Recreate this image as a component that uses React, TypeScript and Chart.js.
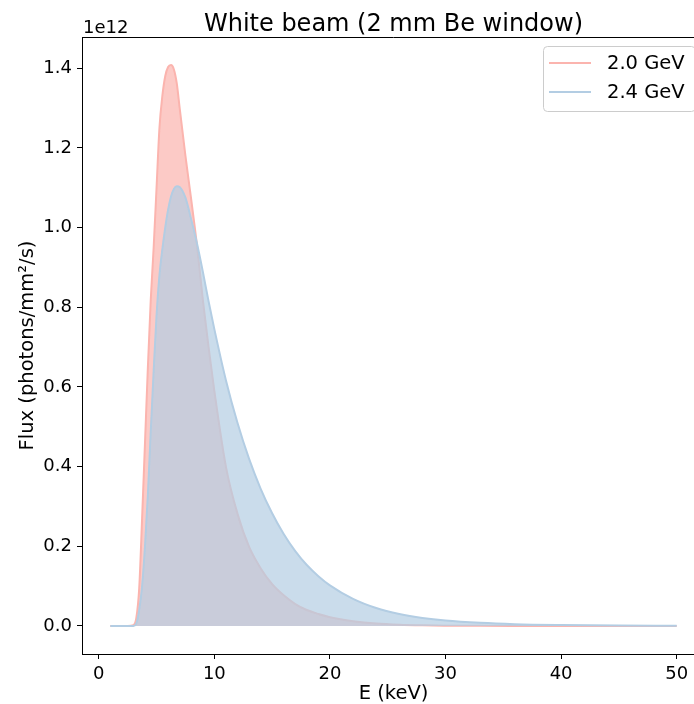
import React, { useEffect, useRef } from 'react';
import { Chart, registerables } from 'chart.js';

Chart.register(...registerables);

const TITLE = 'White beam (2 mm Be window)';
const X_LABEL = 'E (keV)';
const Y_LABEL = 'Flux (photons/mm²/s)';
const Y_OFFSET_LABEL = '1e12';
const SERIES_LABELS = ['2.0 GeV', '2.4 GeV'];

// photon energy (keV)
const ENERGY_KEV = [
  1, 2, 2.5, 3, 3.25, 3.5, 3.75, 4, 4.25, 4.5, 4.75, 5, 5.25, 5.5, 5.75, 6, 6.25, 6.5, 6.75, 7,
  7.5, 8, 8.5, 9, 9.5, 10, 11, 12, 13, 14, 15, 16, 17, 18, 19, 20, 22, 24, 26, 28, 30, 33, 36, 40, 45, 50,
];

// flux in units of 1e12 photons/mm^2/s
const FLUX_2_0_GEV = [
  0, 0, 0, 0.002, 0.02, 0.095, 0.27, 0.46, 0.65, 0.82, 0.95, 1.1, 1.25, 1.33, 1.38, 1.403, 1.408, 1.397, 1.362, 1.3,
  1.18, 1.07, 0.955, 0.82, 0.7, 0.59, 0.4, 0.282, 0.199, 0.145, 0.105, 0.077, 0.055, 0.04, 0.03, 0.022, 0.012, 0.006, 0.003, 0.0015, 0.0008, 0.0003, 0.0001, 0, 0, 0,
];
const FLUX_2_4_GEV = [
  0, 0, 0, 0, 0.006, 0.04, 0.1, 0.2, 0.33, 0.49, 0.64, 0.78, 0.88, 0.945, 1.0, 1.045, 1.078, 1.097, 1.104, 1.102,
  1.075, 1.02, 0.96, 0.89, 0.815, 0.745, 0.617, 0.51, 0.42, 0.345, 0.283, 0.231, 0.188, 0.153, 0.125, 0.102, 0.068, 0.045, 0.03, 0.02, 0.0135, 0.0078, 0.0045, 0.0024, 0.001, 0.0005,
];

const X_TICKS = [0, 10, 20, 30, 40, 50];
const Y_TICKS = [0, 0.2, 0.4, 0.6, 0.8, 1.0, 1.2, 1.4];
const X_MIN = -1.45;
const X_MAX = 52.45;
const Y_MIN = -0.0704;
const Y_MAX = 1.4784;

const RED = '#fbb4ae';
const BLUE = '#b3cde3';
const FONT = '"DejaVu Sans", sans-serif';

const decorPlugin = {
  id: 'decor',
  afterDraw(chart: any) {
    const ctx = chart.ctx;
    const { left, right, top, bottom } = chart.chartArea;
    ctx.save();
    // top and right spines
    ctx.strokeStyle = '#000';
    ctx.lineWidth = 1;
    ctx.beginPath();
    ctx.moveTo(left, top + 0.5);
    ctx.lineTo(right, top + 0.5);
    ctx.moveTo(right - 0.5, top);
    ctx.lineTo(right - 0.5, bottom);
    ctx.stroke();

    ctx.fillStyle = '#000';
    // title
    ctx.font = `24px ${FONT}`;
    ctx.textAlign = 'center';
    ctx.textBaseline = 'alphabetic';
    ctx.fillText(TITLE, (left + right) / 2, top - 6);
    // offset text
    ctx.font = `18px ${FONT}`;
    ctx.textAlign = 'left';
    ctx.fillText(Y_OFFSET_LABEL, left + 1, top - 4);
    // x label
    ctx.font = `19.5px ${FONT}`;
    ctx.textAlign = 'center';
    ctx.fillText(X_LABEL, (left + right) / 2, 699);
    // y label
    ctx.save();
    ctx.translate(32.5, (top + bottom) / 2);
    ctx.rotate(-Math.PI / 2);
    ctx.fillText(Y_LABEL, 0, 0);
    ctx.restore();

    // legend
    const bw = 152;
    const bh = 65;
    const bx = right - 10 - bw;
    const by = top + 9;
    ctx.beginPath();
    ctx.roundRect(bx + 0.5, by + 0.5, bw, bh, 4);
    ctx.fillStyle = 'rgba(255,255,255,0.8)';
    ctx.fill();
    ctx.strokeStyle = '#cccccc';
    ctx.stroke();
    const colors = [RED, BLUE];
    ctx.font = `19.5px ${FONT}`;
    ctx.textAlign = 'left';
    ctx.textBaseline = 'middle';
    SERIES_LABELS.forEach((lab, i) => {
      const ly = by + 17 + i * 29;
      ctx.strokeStyle = colors[i];
      ctx.lineWidth = 2;
      ctx.beginPath();
      ctx.moveTo(bx + 6, ly);
      ctx.lineTo(bx + 48, ly);
      ctx.stroke();
      ctx.fillStyle = '#000';
      ctx.fillText(lab, bx + 64, ly + 1);
    });
    ctx.restore();
  },
};

export default function App() {
  const ref = useRef<HTMLCanvasElement>(null);
  useEffect(() => {
    if (!ref.current) return;
    const mk = (ys: number[]) => ENERGY_KEV.map((e, i) => ({ x: e, y: ys[i] }));
    const axisCommon = {
      type: 'linear' as const,
      grid: { display: true, drawOnChartArea: false, drawTicks: true, tickLength: 5, color: '#000', lineWidth: 1 },
      border: { display: true, color: '#000', width: 1 },
      title: { display: false },
    };
    const chart = new Chart(ref.current, {
      type: 'line',
      data: {
        datasets: [
          {
            label: SERIES_LABELS[0],
            data: mk(FLUX_2_0_GEV),
            borderColor: RED,
            backgroundColor: 'rgba(251,180,174,0.7)',
            fill: 'origin',
            pointRadius: 0,
            borderWidth: 2,
            cubicInterpolationMode: 'monotone',
            order: 1,
          },
          {
            label: SERIES_LABELS[1],
            data: mk(FLUX_2_4_GEV),
            borderColor: BLUE,
            backgroundColor: 'rgba(179,205,227,0.7)',
            fill: 'origin',
            pointRadius: 0,
            borderWidth: 2,
            cubicInterpolationMode: 'monotone',
            order: 0,
          },
        ],
      },
      options: {
        responsive: false,
        animation: false,
        devicePixelRatio: 1,
        layout: { padding: { top: 37, right: 7, left: 0, bottom: 0 } },
        plugins: { legend: { display: false }, title: { display: false }, tooltip: { enabled: false } },
        scales: {
          x: {
            ...axisCommon,
            min: X_MIN,
            max: X_MAX,
            afterBuildTicks: (s: any) => { s.ticks = X_TICKS.map((v) => ({ value: v })); },
            afterFit: (s: any) => { s.height = 50; },
            ticks: { font: { family: FONT, size: 18 }, color: '#000', padding: 5, maxRotation: 0, autoSkip: false, callback: (v: any) => String(v) },
          },
          y: {
            ...axisCommon,
            min: Y_MIN,
            max: Y_MAX,
            afterBuildTicks: (s: any) => { s.ticks = Y_TICKS.map((v) => ({ value: v })); },
            afterFit: (s: any) => { s.width = 82; },
            ticks: { font: { family: FONT, size: 18 }, color: '#000', padding: 5, autoSkip: false, callback: (v: any) => Number(v).toFixed(1) },
          },
        },
      },
      plugins: [decorPlugin],
    });
    return () => chart.destroy();
  }, []);
  return (
    <div style={{ position: 'fixed', left: 0, top: 0, width: 694, height: 704, overflow: 'hidden', background: '#fff' }}>
      <canvas ref={ref} width={712} height={704} style={{ display: 'block' }} />
    </div>
  );
}
